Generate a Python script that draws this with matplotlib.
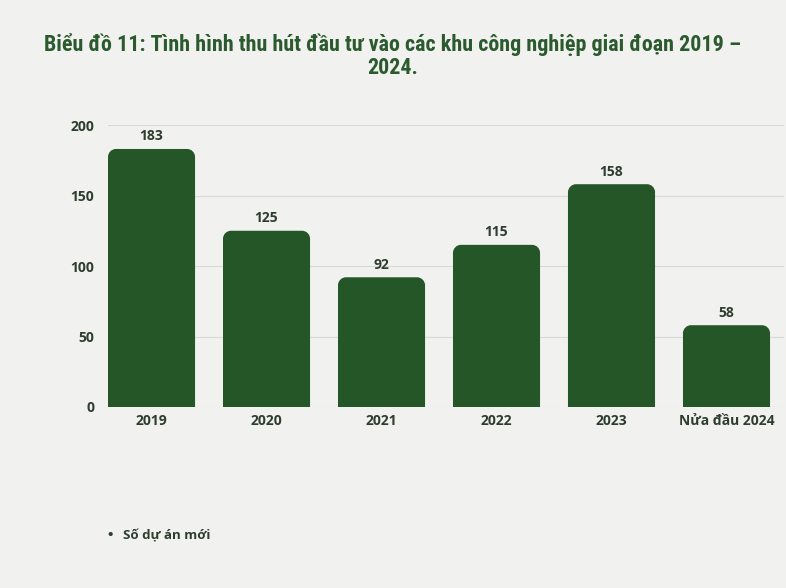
import matplotlib.pyplot as plt
from matplotlib.path import Path
from matplotlib.patches import PathPatch

# dữ liệu
years = ['2019', '2020', '2021', '2022', '2023', 'Nửa đầu 2024']
so_du_an = [183, 125, 92, 115, 158, 58]
yticks = [0, 50, 100, 150, 200]

bar_color = '#245628'
text_color = '#2e3d2f'
title_color = '#2b5a2e'
bg = '#f1f1ef'

plt.rcParams['font.family'] = ['Open Sans', 'DejaVu Sans']

fig = plt.figure(figsize=(7.86, 5.88), dpi=100, facecolor=bg)
ax = fig.add_axes([108 / 786, 181 / 588, 676 / 786, 282 / 588])
ax.set_facecolor(bg)

width = 0.757
ax.set_xlim(-width / 2, len(years) - 0.5)
ax.set_ylim(0, 200)

# cột bo góc trên
px_x = 676 / (len(years) - 0.5 + width / 2)
px_y = 282 / 200
r = 8
rx, ry = r / px_x, r / px_y
k = 0.5523
for i, v in enumerate(so_du_an):
    x0, x1 = i - width / 2, i + width / 2
    verts = [(x0, 0), (x0, v - ry),
             (x0, v - ry + k * ry), (x0 + rx - k * rx, v), (x0 + rx, v),
             (x1 - rx, v),
             (x1 - rx + k * rx, v), (x1, v - ry + k * ry), (x1, v - ry),
             (x1, 0), (x0, 0)]
    codes = [Path.MOVETO, Path.LINETO,
             Path.CURVE4, Path.CURVE4, Path.CURVE4,
             Path.LINETO,
             Path.CURVE4, Path.CURVE4, Path.CURVE4,
             Path.LINETO, Path.CLOSEPOLY]
    ax.add_patch(PathPatch(Path(verts, codes), facecolor=bar_color,
                           edgecolor='none', zorder=3))
    ax.annotate(str(v), (i, v), xytext=(0, 4), textcoords='offset points',
                ha='center', va='bottom', fontsize=10, fontweight='bold',
                color=text_color)

ax.set_yticks(yticks)
ax.set_yticklabels([str(t) for t in yticks], fontsize=10, fontweight='bold',
                   color=text_color)
ax.set_xticks(range(len(years)))
ax.set_xticklabels(years, fontsize=10, fontweight='bold', color=text_color)
ax.tick_params(length=0, pad=5)
ax.tick_params(axis='y', pad=10)
ax.grid(axis='y', color='#d9d9d6', linewidth=0.8, zorder=0)
for s in ax.spines.values():
    s.set_visible(False)

fig.text(0.5, 1 - 56 / 588,
         'Biểu đồ 11: Tình hình thu hút đầu tư vào các khu công nghiệp giai đoạn 2019 –\n2024.',
         ha='center', va='center', fontsize=15.8, fontweight='bold',
         color=title_color,
         family=['Roboto Condensed', 'Liberation Sans Narrow', 'Roboto', 'DejaVu Sans'],
         fontstretch='condensed', linespacing=1.0)

fig.text(106 / 786, 1 - 536 / 588, '•', ha='left', va='center', fontsize=14,
         color=text_color)
fig.text(123 / 786, 1 - 536 / 588, 'Số dự án mới', ha='left', va='center',
         fontsize=9.5, fontweight='bold', color=text_color)

fig.savefig('out.png', dpi=100, facecolor=bg)
